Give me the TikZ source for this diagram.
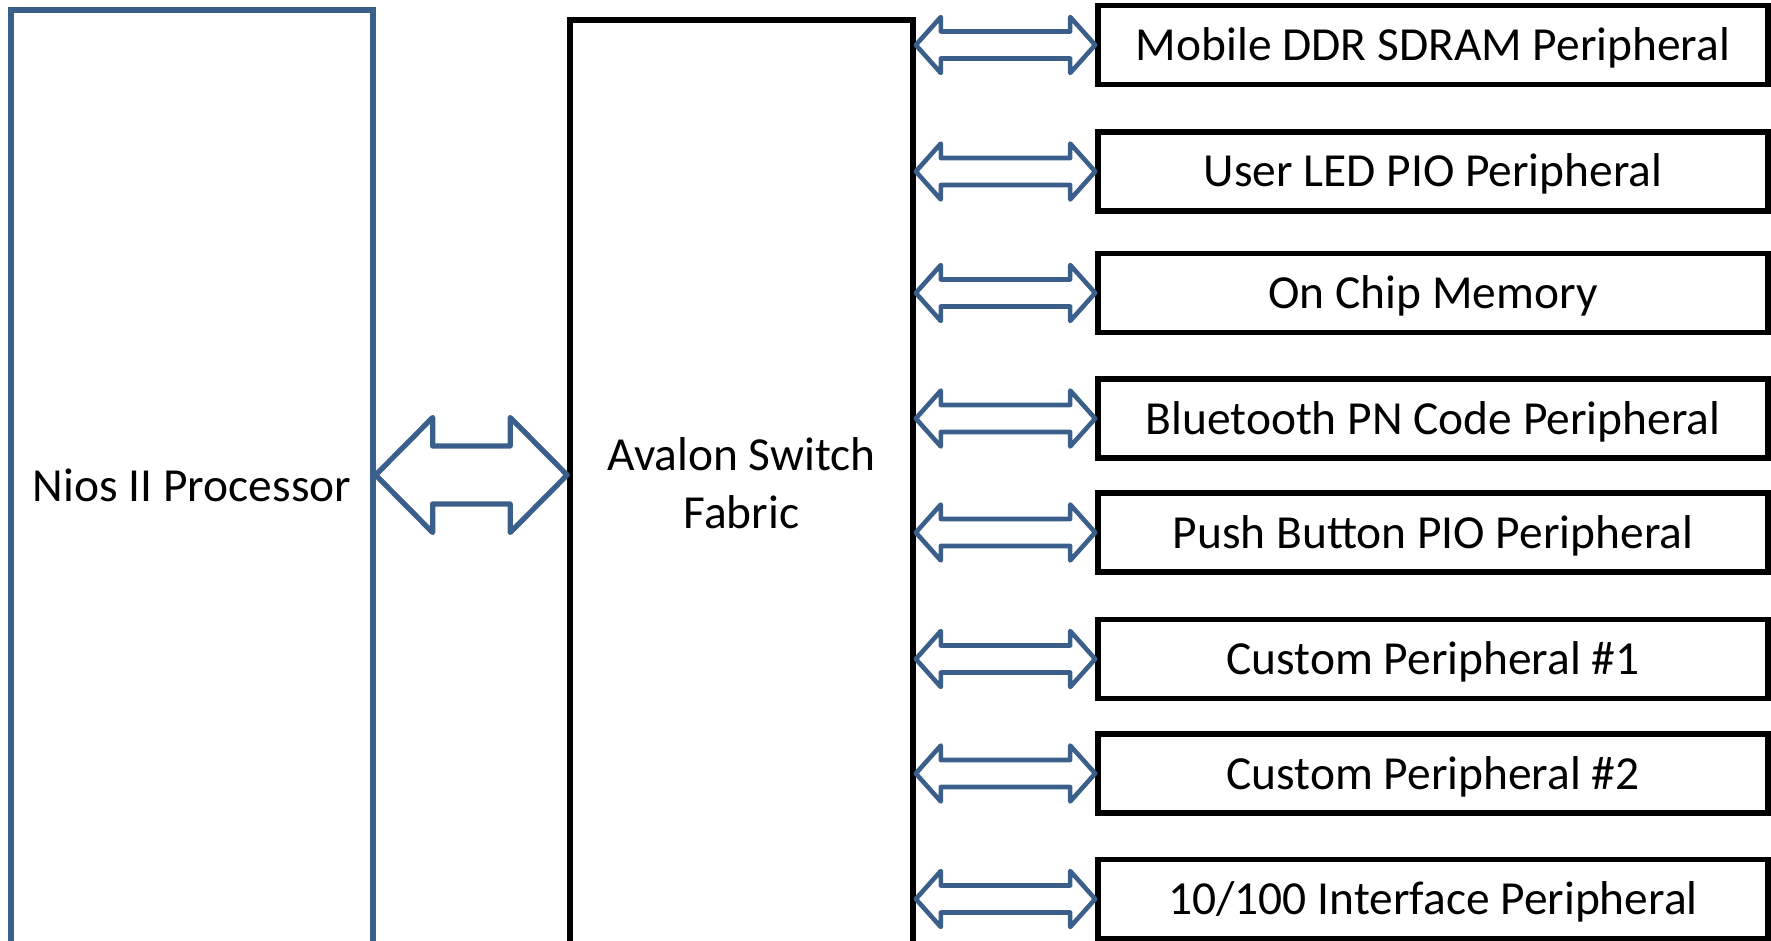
\documentclass[tikz,border=0pt]{standalone}
\usepackage{fontspec}
\setmainfont{Carlito}
\usetikzlibrary{calc}
\definecolor{busblue}{HTML}{3A5F8B}
\tikzset{
	periph/.style={draw=black, line width=1.6pt, minimum width=6.70cm, minimum height=0.79cm, inner sep=0pt, text height=0.31cm, text depth=0pt},
	bus/.style={draw=busblue, line width=1.3pt, line join=round},
}
% double headed bus arrow: [style]{left tip}{right tip}{head length}{head half}{shaft half}
\newcommand{\busarrow}[6][]{%
	\draw[bus,#1] let \p1=(#2), \p2=(#3) in
		(\x1,\y1) -- (\x1+#4,\y1+#5) -- (\x1+#4,\y1+#6) -- (\x2-#4,\y1+#6) -- (\x2-#4,\y1+#5)
		-- (\x2,\y1) -- (\x2-#4,\y1-#5) -- (\x2-#4,\y1-#6) -- (\x1+#4,\y1-#6) -- (\x1+#4,\y1-#5) -- cycle;}
\begin{document}
\begin{tikzpicture}[font=\fontsize{13.5}{16.5}\selectfont]
	\useasboundingbox (0,0) rectangle (17.71,-9.41);
	\node[draw=busblue, line width=1.5pt, minimum width=3.62cm, minimum height=9.5cm] (nios) at (1.92,-4.85) {Nios II Processor};
	\node[draw=black, line width=1.6pt, minimum width=3.43cm, minimum height=9.26cm, align=center] (fabric) at (7.415,-4.83) {Avalon Switch\\Fabric};
	\node[periph] (ddr) at (14.33,-0.45) {Mobile DDR SDRAM Peripheral};
	\node[periph] (led) at (14.33,-1.715) {User LED PIO Peripheral};
	\node[periph] (ocm) at (14.33,-2.93) {On Chip Memory};
	\node[periph] (bt) at (14.33,-4.185) {Bluetooth PN Code Peripheral};
	\node[periph] (pb) at (14.33,-5.325) {Push Button PIO Peripheral};
	\node[periph] (cp1) at (14.33,-6.59) {Custom Peripheral \#1};
	\node[periph] (cp2) at (14.33,-7.735) {Custom Peripheral \#2};
	\node[periph] (eth) at (14.33,-8.99) {10/100 Interface Peripheral};
	\coordinate (busmid) at (0,-4.75);
	\busarrow[line width=1.5pt]{nios.east |- busmid}{fabric.west |- busmid}{0.57cm}{0.575cm}{0.29cm}
	\foreach \per in {ddr,led,ocm,bt,pb,cp1,cp2,eth}{
		\busarrow{fabric.east |- \per.west}{\per.west}{0.25cm}{0.28cm}{0.135cm}
	}
\end{tikzpicture}
\end{document}
